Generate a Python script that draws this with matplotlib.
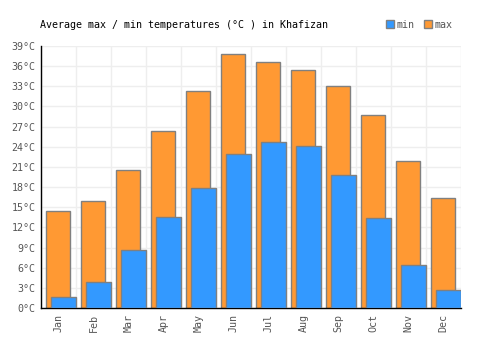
import numpy as np
import matplotlib.pyplot as plt
from matplotlib.patches import Patch

months = ['Jan', 'Feb', 'Mar', 'Apr', 'May', 'Jun', 'Jul', 'Aug', 'Sep', 'Oct', 'Nov', 'Dec']
t_max = [14.4, 15.9, 20.5, 26.3, 32.3, 37.8, 36.6, 35.4, 33.0, 28.7, 21.9, 16.4]
t_min = [1.6, 3.9, 8.6, 13.5, 17.9, 22.9, 24.7, 24.1, 19.8, 13.4, 6.4, 2.7]
y_ticks = list(range(0, 40, 3))

font = 'DejaVu Sans Mono'
grey = '#555555'
fs = 7.2

fig = plt.figure(figsize=(5, 3.5), dpi=100)
ax = fig.add_axes([0.082, 0.12, 0.84, 0.749])

x = np.arange(len(months))
ax.bar(x - 0.014, t_max, width=0.69, color='#FF9933', edgecolor='#808080', linewidth=1, zorder=2)
ax.bar(x + 0.143, t_min, width=0.71, color='#3399FF', edgecolor='#808080', linewidth=1, zorder=3)

ax.set_xlim(-0.5, len(months) - 0.5)
ax.set_ylim(0, 39)
ax.set_yticks(y_ticks)
ax.set_yticklabels([f'{v}°C' for v in y_ticks], fontfamily=font, fontsize=fs, color=grey)
ax.set_xticks(x)
ax.set_xticklabels(months, rotation=90, fontfamily=font, fontsize=fs, color=grey)
ax.set_xticks(np.arange(-0.5, len(months), 1), minor=True)
ax.tick_params(axis='both', which='both', length=0, pad=4)

ax.grid(axis='y', color='#eeeeee', linewidth=1, zorder=0)
ax.grid(axis='x', which='minor', color='#eeeeee', linewidth=1, zorder=0)
ax.set_axisbelow(True)
for s in ['top', 'right']:
    ax.spines[s].set_visible(False)
for s in ['left', 'bottom']:
    ax.spines[s].set_color('black')
    ax.spines[s].set_linewidth(1)

fig.text(0.08, 0.93, 'Average max / min temperatures (°C ) in Khafizan',
         fontfamily=font, fontsize=fs, color='black', va='center')

handles = [Patch(facecolor='#3399FF', edgecolor='#808080', label='min'),
           Patch(facecolor='#FF9933', edgecolor='#808080', label='max')]
fig.legend(handles=handles, loc='center right', bbox_to_anchor=(0.905, 0.93), ncol=2,
           frameon=False, prop={'family': font, 'size': fs}, labelcolor=grey,
           handlelength=0.8, handleheight=0.8, handletextpad=0.3, columnspacing=0.9,
           borderpad=0, borderaxespad=0)

fig.savefig('out.png', dpi=100)
